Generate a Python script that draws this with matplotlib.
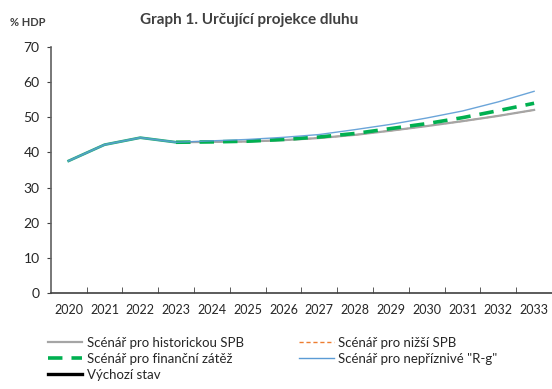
import matplotlib
matplotlib.use("Agg")
from matplotlib import pyplot as plt
from matplotlib.lines import Line2D

plt.rcParams['font.family'] = ['Lato', 'DejaVu Sans']

years = ['2020', '2021', '2022', '2023', '2024', '2025', '2026',
         '2027', '2028', '2029', '2030', '2031', '2032', '2033']

# dluh v % HDP
historicka_spb = [37.6, 42.2, 44.2, 42.9, 43.0, 43.1, 43.5,
                  44.1, 45.0, 46.2, 47.5, 48.9, 50.4, 52.1]
nizsi_spb = [37.6, 42.2, 44.2, 42.9, 43.0, 43.1, 43.5,
             44.1, 45.0, 46.2, 47.5, 48.9, 50.4, 52.1]
financni_zatez = [37.6, 42.2, 44.2, 42.9, 43.0, 43.2, 43.7,
                  44.4, 45.4, 46.8, 48.2, 49.9, 51.9, 54.0]
neprizniva_rg = [37.6, 42.2, 44.2, 42.9, 43.3, 43.7, 44.3,
                 45.1, 46.5, 48.0, 49.8, 51.8, 54.4, 57.4]
vychozi_stav = [37.6, 42.2, 44.2, 42.9]

x = list(range(len(years)))
n_hist = len(vychozi_stav)

fig = plt.figure(figsize=(5.52, 3.89), dpi=100)
ax = fig.add_axes([0.092, 0.247, 0.908, 0.632])

green = '#00b050'
ax.plot(x[:n_hist], vychozi_stav, color='black', lw=1.0, zorder=1)
ax.plot(x, nizsi_spb, color='#ed7d31', lw=1.0, ls=(0, (3, 2)), zorder=2)
ax.plot(x, historicka_spb, color='#a5a5a5', lw=1.6, zorder=3)
# historie plnou carou, projekce carkovane
ax.plot(x[:n_hist], financni_zatez[:n_hist], color='#2fb38a', lw=2.0, zorder=4)
ax.plot(x[n_hist - 1:], financni_zatez[n_hist - 1:], color=green, lw=2.6,
        ls=(0, (4, 2.5)), zorder=4)
ax.plot(x, neprizniva_rg, color='#5b9bd5', lw=1.0, zorder=5, alpha=0.9)

ax.set_xlim(-0.5, len(years) - 0.5)
ax.set_ylim(0, 70)
ax.set_yticks(range(0, 71, 10))
ax.set_xticks(x)
ax.set_xticklabels(years, fontsize=9)
ax.set_xticks([i + 0.5 for i in x[:-1]], minor=True)
ax.tick_params(axis='x', which='major', length=0, pad=8, labelcolor='#262626')
ax.tick_params(axis='x', which='minor', direction='in', length=4, color='#404040')
ax.tick_params(axis='y', direction='out', length=3, labelsize=10, pad=5,
               color='#404040', labelcolor='#262626')

for side in ['top', 'right']:
    ax.spines[side].set_visible(False)
ax.spines['left'].set_color('#606060')
ax.spines['bottom'].set_color('#404040')
ax.spines['left'].set_linewidth(1.2)
ax.spines['bottom'].set_linewidth(1.2)

fig.text(0.452, 0.948, 'Graph 1. Určující projekce dluhu', ha='center', va='center',
         fontsize=11, fontweight='bold', color='#404040')
fig.text(0.018, 0.943, '% HDP', ha='left', va='center', fontsize=8,
         fontweight='bold', color='#404040')

handles = [
    Line2D([], [], color='#a5a5a5', lw=1.6),
    Line2D([], [], color=green, lw=2.6, ls=(0, (4, 2.5))),
    Line2D([], [], color='black', lw=2.4),
    Line2D([], [], color='#ed7d31', lw=1.0, ls=(0, (3, 2))),
    Line2D([], [], color='#5b9bd5', lw=1.0),
]
labels = [
    'Scénář pro historickou SPB',
    'Scénář pro finanční zátěž',
    'Výchozí stav',
    'Scénář pro nižší SPB',
    'Scénář pro nepříznivé "R-g"',
]
fig.legend(handles, labels, ncol=2, loc='upper left', bbox_to_anchor=(0.07, 0.158),
           frameon=False, fontsize=9.5, handlelength=2.6, handletextpad=0.35,
           columnspacing=4.2, labelspacing=0.3, borderpad=0.2, labelcolor='#262626')

fig.savefig('out.png', dpi=100)
